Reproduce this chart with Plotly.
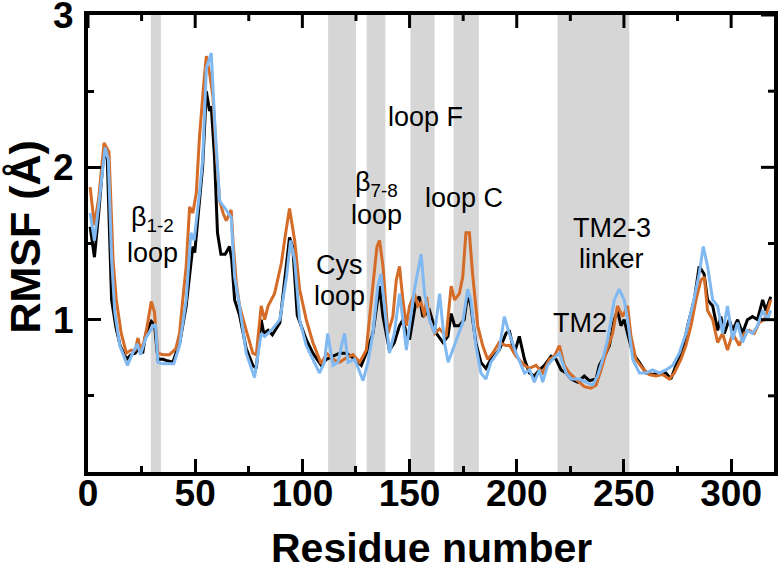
import plotly.graph_objects as go

# ---------------- data ----------------
black_res = [1, 3, 5, 7.5, 9, 11, 13, 15, 18, 20, 22, 24, 25.5, 27, 29.5, 31, 32.6, 35, 37, 39.6,
             41, 42.7, 45.8, 48.9, 49.8, 52, 53.5, 55.2, 56.7, 57.5, 59, 60.4, 62, 64, 66, 67, 68.4,
             70.7, 73.8, 76.9, 78.5, 80.8, 82, 84, 86, 89.5, 92.6, 94, 95.5, 97.6, 101.8, 104.9,
             108.8, 111.2, 114.3, 117.4, 120.5, 123.6, 127.5, 129.8, 132.9, 136, 137.6, 140.6,
             142.9, 145.3, 146.9, 148.5, 150, 153.1, 154.6, 156.2, 159.3, 162.5, 165.6, 167.9,
             169.4, 171, 173.2, 175.5, 177.1, 178.6, 180.9, 183.3, 185.6, 187.9, 191.8, 195, 196.5,
             198.9, 201.2, 203.6, 205.9, 208.2, 210.5, 212.9, 216, 218.3, 220.7, 223, 225.4, 228.4,
             231.5, 233.9, 237, 238.5, 240.9, 243.2, 245.5, 247, 248.6, 250.1, 251.7, 254.1, 257.2,
             260.3, 263.4, 266.5, 269.6, 271.9, 274.3, 277.4, 279.7, 282.8, 285.1, 287.4, 289,
             291.4, 293.7, 295.2, 296.8, 299.1, 300.7, 303, 305.3, 307.6, 310, 312.3, 314.7, 316.2,
             318.5]
black_val = [1.61, 1.41, 1.70, 2.12, 2.05, 1.13, 0.95, 0.83, 0.74, 0.77, 0.78, 0.82, 0.78, 0.91,
             0.99, 0.97, 0.74, 0.74, 0.73, 0.72, 0.78, 0.84, 1.09, 1.48, 1.44, 1.78, 2.01, 2.50,
             2.37, 2.40, 2.07, 1.57, 1.43, 1.43, 1.48, 1.40, 1.13, 1.03, 0.81, 0.70, 0.68, 1.00,
             0.91, 0.93, 0.90, 0.98, 1.35, 1.54, 1.48, 1.03, 0.87, 0.78, 0.70, 0.74, 0.76, 0.78,
             0.78, 0.75, 0.70, 0.78, 0.91, 1.22, 1.02, 0.80, 0.85, 0.96, 1.00, 0.91, 0.87, 1.13,
             1.15, 1.02, 1.06, 0.91, 0.85, 0.89, 1.04, 0.96, 0.96, 1.00, 1.17, 1.09, 0.85, 0.72,
             0.68, 0.74, 0.80, 0.91, 0.93, 0.78, 0.89, 0.74, 0.65, 0.63, 0.67, 0.70, 0.76, 0.74,
             0.67, 0.65, 0.61, 0.59, 0.63, 0.60, 0.61, 0.70, 0.76, 0.83, 1.00, 1.06, 0.96, 1.00,
             0.91, 0.78, 0.72, 0.65, 0.64, 0.65, 0.65, 0.61, 0.70, 0.80, 0.96, 1.13, 1.35, 1.30,
             1.13, 1.09, 0.93, 1.02, 0.91, 1.00, 0.93, 1.00, 0.91, 1.00, 1.02, 1.00, 1.13, 1.06,
             1.15]

orange_res = [1, 3, 5, 7.5, 9.8, 11.7, 13.2, 15.5, 17.9, 20, 22, 23.3, 24.5, 26, 27.5, 29.5, 31,
              32.6, 35, 38, 41, 42.7, 44.2, 45.8, 47.4, 48.9, 50.5, 52, 54, 55.2, 56.7, 58.3,
              59.9, 61.4, 63, 64.5, 66.8, 67.6, 69.2, 70.7, 73.8, 76.9, 78.5, 80.8, 82.4, 84, 87,
              90.2, 92, 94, 96.4, 98.7, 101.8, 104.9, 108.8, 111.2, 114.3, 117.4, 120.5, 123.6,
              126.7, 129.8, 132.2, 134.8, 136, 137.6, 139.9, 142.2, 143.8, 145.3, 146.9, 148.5,
              150, 152.3, 153.9, 155.4, 157, 158, 159.3, 161.7, 164, 167.1, 169.4, 171, 173.2,
              174.8, 176.3, 177.9, 179.4, 181.8, 184.1, 186.4, 188.8, 191.8, 195, 196.7, 199.7,
              203.6, 205.9, 209, 212.1, 215.2, 217.5, 219.9, 222.2, 224.5, 227.6, 231.5, 234.6,
              237, 239.3, 241.6, 244.7, 247, 249.4, 251.7, 253.3, 255.6, 258.7, 261.8, 264.9, 268,
              271.2, 273.5, 276.6, 278.9, 281.3, 283.6, 285.9, 287.5, 289, 291.4, 293.7, 296,
              298.3, 300.7, 303.8, 306.1, 308.4, 310.8, 313.1, 315.4, 317, 318.5]
orange_val = [1.87, 1.62, 1.80, 2.16, 2.10, 1.39, 1.13, 0.91, 0.78, 0.80, 0.80, 0.88, 0.80, 0.85,
              0.95, 1.12, 1.05, 0.78, 0.77, 0.77, 0.81, 0.91, 1.13, 1.35, 1.74, 1.70, 1.83, 2.20,
              2.55, 2.73, 2.62, 2.46, 2.07, 1.78, 1.70, 1.65, 1.72, 1.52, 1.24, 1.09, 0.93, 0.78,
              0.77, 1.09, 1.00, 1.09, 1.17, 1.37, 1.55, 1.73, 1.52, 1.20, 1.00, 0.85, 0.71, 0.78,
              0.74, 0.72, 0.75, 0.77, 0.72, 0.80, 1.13, 1.48, 1.52, 1.35, 0.91, 1.02, 1.26, 1.35,
              1.13, 0.96, 1.09, 1.17, 1.09, 1.11, 1.02, 1.15, 1.00, 0.91, 0.94, 0.89, 1.22, 1.13,
              1.17, 1.28, 1.57, 1.57, 1.30, 0.96, 0.83, 0.74, 0.78, 0.85, 0.83, 0.83, 0.76, 0.70,
              0.68, 0.70, 0.65, 0.74, 0.76, 0.83, 0.70, 0.65, 0.61, 0.56, 0.55, 0.57, 0.67, 0.78,
              0.91, 1.09, 1.02, 1.09, 0.89, 0.74, 0.68, 0.64, 0.63, 0.64, 0.61, 0.65, 0.74, 0.83,
              0.96, 1.13, 1.26, 1.28, 1.06, 1.00, 0.85, 0.91, 0.80, 0.91, 0.83, 0.91, 0.93, 0.91,
              0.98, 1.00, 1.06, 1.13]

blue_res = [1, 3, 5, 8, 9.5, 11, 12.5, 14.8, 18.4, 20.5, 23, 24.5, 27, 30.5, 31.5, 32.6, 35, 38,
            40, 42.7, 45.8, 48, 49.5, 52, 53.5, 55.2, 57.5, 59, 61.4, 64.5, 66.8, 68.4, 70.7,
            73.8, 77.7, 80.8, 82.4, 85.5, 89.5, 92.6, 94.5, 96.4, 98.7, 101.8, 104.9, 108, 110.3,
            111.8, 114.3, 116.6, 118.9, 119.7, 121.3, 124.4, 128.3, 130.6, 132.9, 135.2, 136.7,
            138.3, 140.6, 142.9, 145.3, 146.9, 148.5, 150, 152.3, 155.4, 157, 159.3, 161.7, 164,
            166.3, 168, 170.2, 172.5, 174.8, 177.1, 178.6, 180.9, 183.3, 185.6, 187.9, 191.8,
            194.2, 196.5, 199.7, 203.6, 206, 208.2, 210.5, 212.1, 214.4, 216.7, 219.9, 223, 225.4,
            229.2, 232.3, 235.4, 237.7, 240.1, 242.4, 245.5, 247.8, 250.1, 251.7, 254.1, 257.2,
            260.3, 263.4, 266.5, 269.6, 272.7, 275.8, 278.9, 282, 285.1, 287, 289, 291.4, 293.7,
            296, 298.3, 300.7, 303, 305.3, 307.6, 310, 312.3, 314.7, 316.9, 318.5]
blue_val = [1.70, 1.52, 1.75, 2.13, 2.05, 1.40, 1.05, 0.83, 0.70, 0.77, 0.84, 0.77, 0.88, 0.96,
            0.97, 0.72, 0.71, 0.71, 0.71, 0.83, 1.13, 1.57, 1.52, 1.83, 2.05, 2.65, 2.75, 2.33,
            1.78, 1.72, 1.67, 1.28, 1.09, 0.78, 0.62, 0.91, 0.89, 0.93, 1.00, 1.28, 1.52, 1.39,
            1.00, 0.83, 0.74, 0.65, 0.72, 0.91, 0.70, 0.72, 0.87, 0.91, 0.72, 0.74, 0.60, 0.72,
            0.91, 1.22, 1.30, 1.09, 0.78, 0.91, 1.17, 1.00, 0.80, 0.96, 1.20, 1.43, 1.17, 1.00,
            0.91, 1.17, 0.85, 0.72, 0.80, 0.89, 0.98, 1.20, 1.13, 0.83, 0.65, 0.61, 0.72, 0.80,
            1.02, 0.91, 0.78, 0.65, 0.67, 0.59, 0.67, 0.59, 0.70, 0.74, 0.78, 0.65, 0.61, 0.61,
            0.59, 0.57, 0.63, 0.74, 0.87, 1.13, 1.20, 1.13, 1.00, 0.74, 0.65, 0.65, 0.67, 0.65,
            0.67, 0.70, 0.78, 0.91, 1.09, 1.30, 1.48, 1.35, 1.13, 1.09, 0.91, 1.09, 0.87, 0.98,
            0.85, 0.93, 0.91, 0.96, 1.06, 1.00, 1.06]

band_starts = [29.3, 112, 130, 150.4, 170.5, 219]
band_ends = [34, 125, 138.7, 161.7, 182.3, 252.5]

x_ticks = [0, 50, 100, 150, 200, 250, 300]
x_minor_ticks = [25, 75, 125, 175, 225, 275]
y_ticks = [1, 2, 3]
y_minor_ticks = [0.5, 1.5, 2.5]
x_range = [0, 320]
y_range = [0, 3]

# region labels: (text, residue, RMSF)
label_texts = ["β<sub>1-2</sub>", "loop", "Cys", "loop", "β<sub>7-8</sub>", "loop",
               "loop F", "loop C", "TM2-3", "linker", "TM2"]
label_x = [30.2, 30.2, 117.4, 117.4, 134.5, 134.5, 157.4, 175.6, 244.4, 244.4, 229.6]
label_y = [1.66, 1.44, 1.36, 1.155, 1.89, 1.69, 2.33, 1.80, 1.60, 1.40, 0.98]

# ---------------- figure ----------------
fig = go.Figure()
series = [(black_res, black_val, "#000000"),
          (orange_res, orange_val, "#D46B26"),
          (blue_res, blue_val, "#80B9F2")]
for xs, ys, col in series:
    fig.add_trace(go.Scatter(x=xs, y=ys, mode="lines",
                             line=dict(color=col, width=3), showlegend=False,
                             hoverinfo="skip"))

for s, e in zip(band_starts, band_ends):
    fig.add_shape(type="rect", xref="x", yref="paper", x0=s, x1=e, y0=0, y1=1,
                  fillcolor="#D6D6D6", line=dict(width=0), layer="below")

# mirrored inside ticks on the top and right frame edges (pixel-length shapes)
tick_line = dict(color="#000000", width=3)
for vals, length in ((x_ticks, 13), (x_minor_ticks, 6)):
    for v in vals:
        fig.add_shape(type="line", xref="x", yref="paper", ysizemode="pixel", yanchor=1,
                      x0=v, x1=v, y0=0, y1=-length, line=tick_line, layer="above")
for vals, length in ((y_ticks, 13), (y_minor_ticks, 6)):
    for v in vals:
        fig.add_shape(type="line", xref="paper", yref="y", xsizemode="pixel", xanchor=1,
                      x0=0, x1=-length, y0=v, y1=v, line=tick_line, layer="above")

for t, xv, yv in zip(label_texts, label_x, label_y):
    fig.add_annotation(x=xv, y=yv, xref="x", yref="y", text=t, showarrow=False,
                       xanchor="center", yanchor="middle",
                       font=dict(family="Liberation Sans", size=27, color="#000000"))

# axis titles
fig.add_annotation(x=0.5, y=-0.22, xref="paper", yref="paper", text="Residue number",
                   showarrow=False, xanchor="center", yanchor="bottom",
                   font=dict(family="Liberation Sans", size=41, color="#000000", weight="bold"))
fig.add_annotation(x=-0.092, y=0.515, xref="paper", yref="paper", text="RMSF (Å)",
                   textangle=-90, showarrow=False, xanchor="center", yanchor="middle",
                   font=dict(family="Liberation Sans", size=43, color="#000000", weight="bold"))

tick_font = dict(family="Liberation Sans", size=37, color="#000000", weight="bold")
axis_common = dict(showline=True, linewidth=4, linecolor="#000000", mirror=True,
                   ticks="inside", ticklen=13, tickwidth=3, tickcolor="#000000",
                   showgrid=False, zeroline=False, automargin=False,
                   ticklabeloverflow="allow", tickfont=tick_font)

fig.update_layout(
    xaxis=dict(range=x_range, tickvals=x_ticks, ticktext=[str(v) for v in x_ticks],
               minor=dict(ticks="inside", ticklen=6, tickwidth=3, tickcolor="#000000",
                          tickvals=x_minor_ticks, showgrid=False),
               ticklabelstandoff=-14, **axis_common),
    yaxis=dict(range=y_range, tickvals=y_ticks, ticktext=[str(v) for v in y_ticks],
               minor=dict(ticks="inside", ticklen=6, tickwidth=3, tickcolor="#000000",
                          tickvals=y_minor_ticks, showgrid=False),
               ticklabelstandoff=3, **axis_common),
    width=778, height=574, margin=dict(l=88, r=4, t=15, b=102),
    plot_bgcolor="#FFFFFF", paper_bgcolor="#FFFFFF",
)

fig.write_html("out.html", config={"displayModeBar": False},
               post_script="document.body.style.margin='0';document.body.style.padding='0';")
